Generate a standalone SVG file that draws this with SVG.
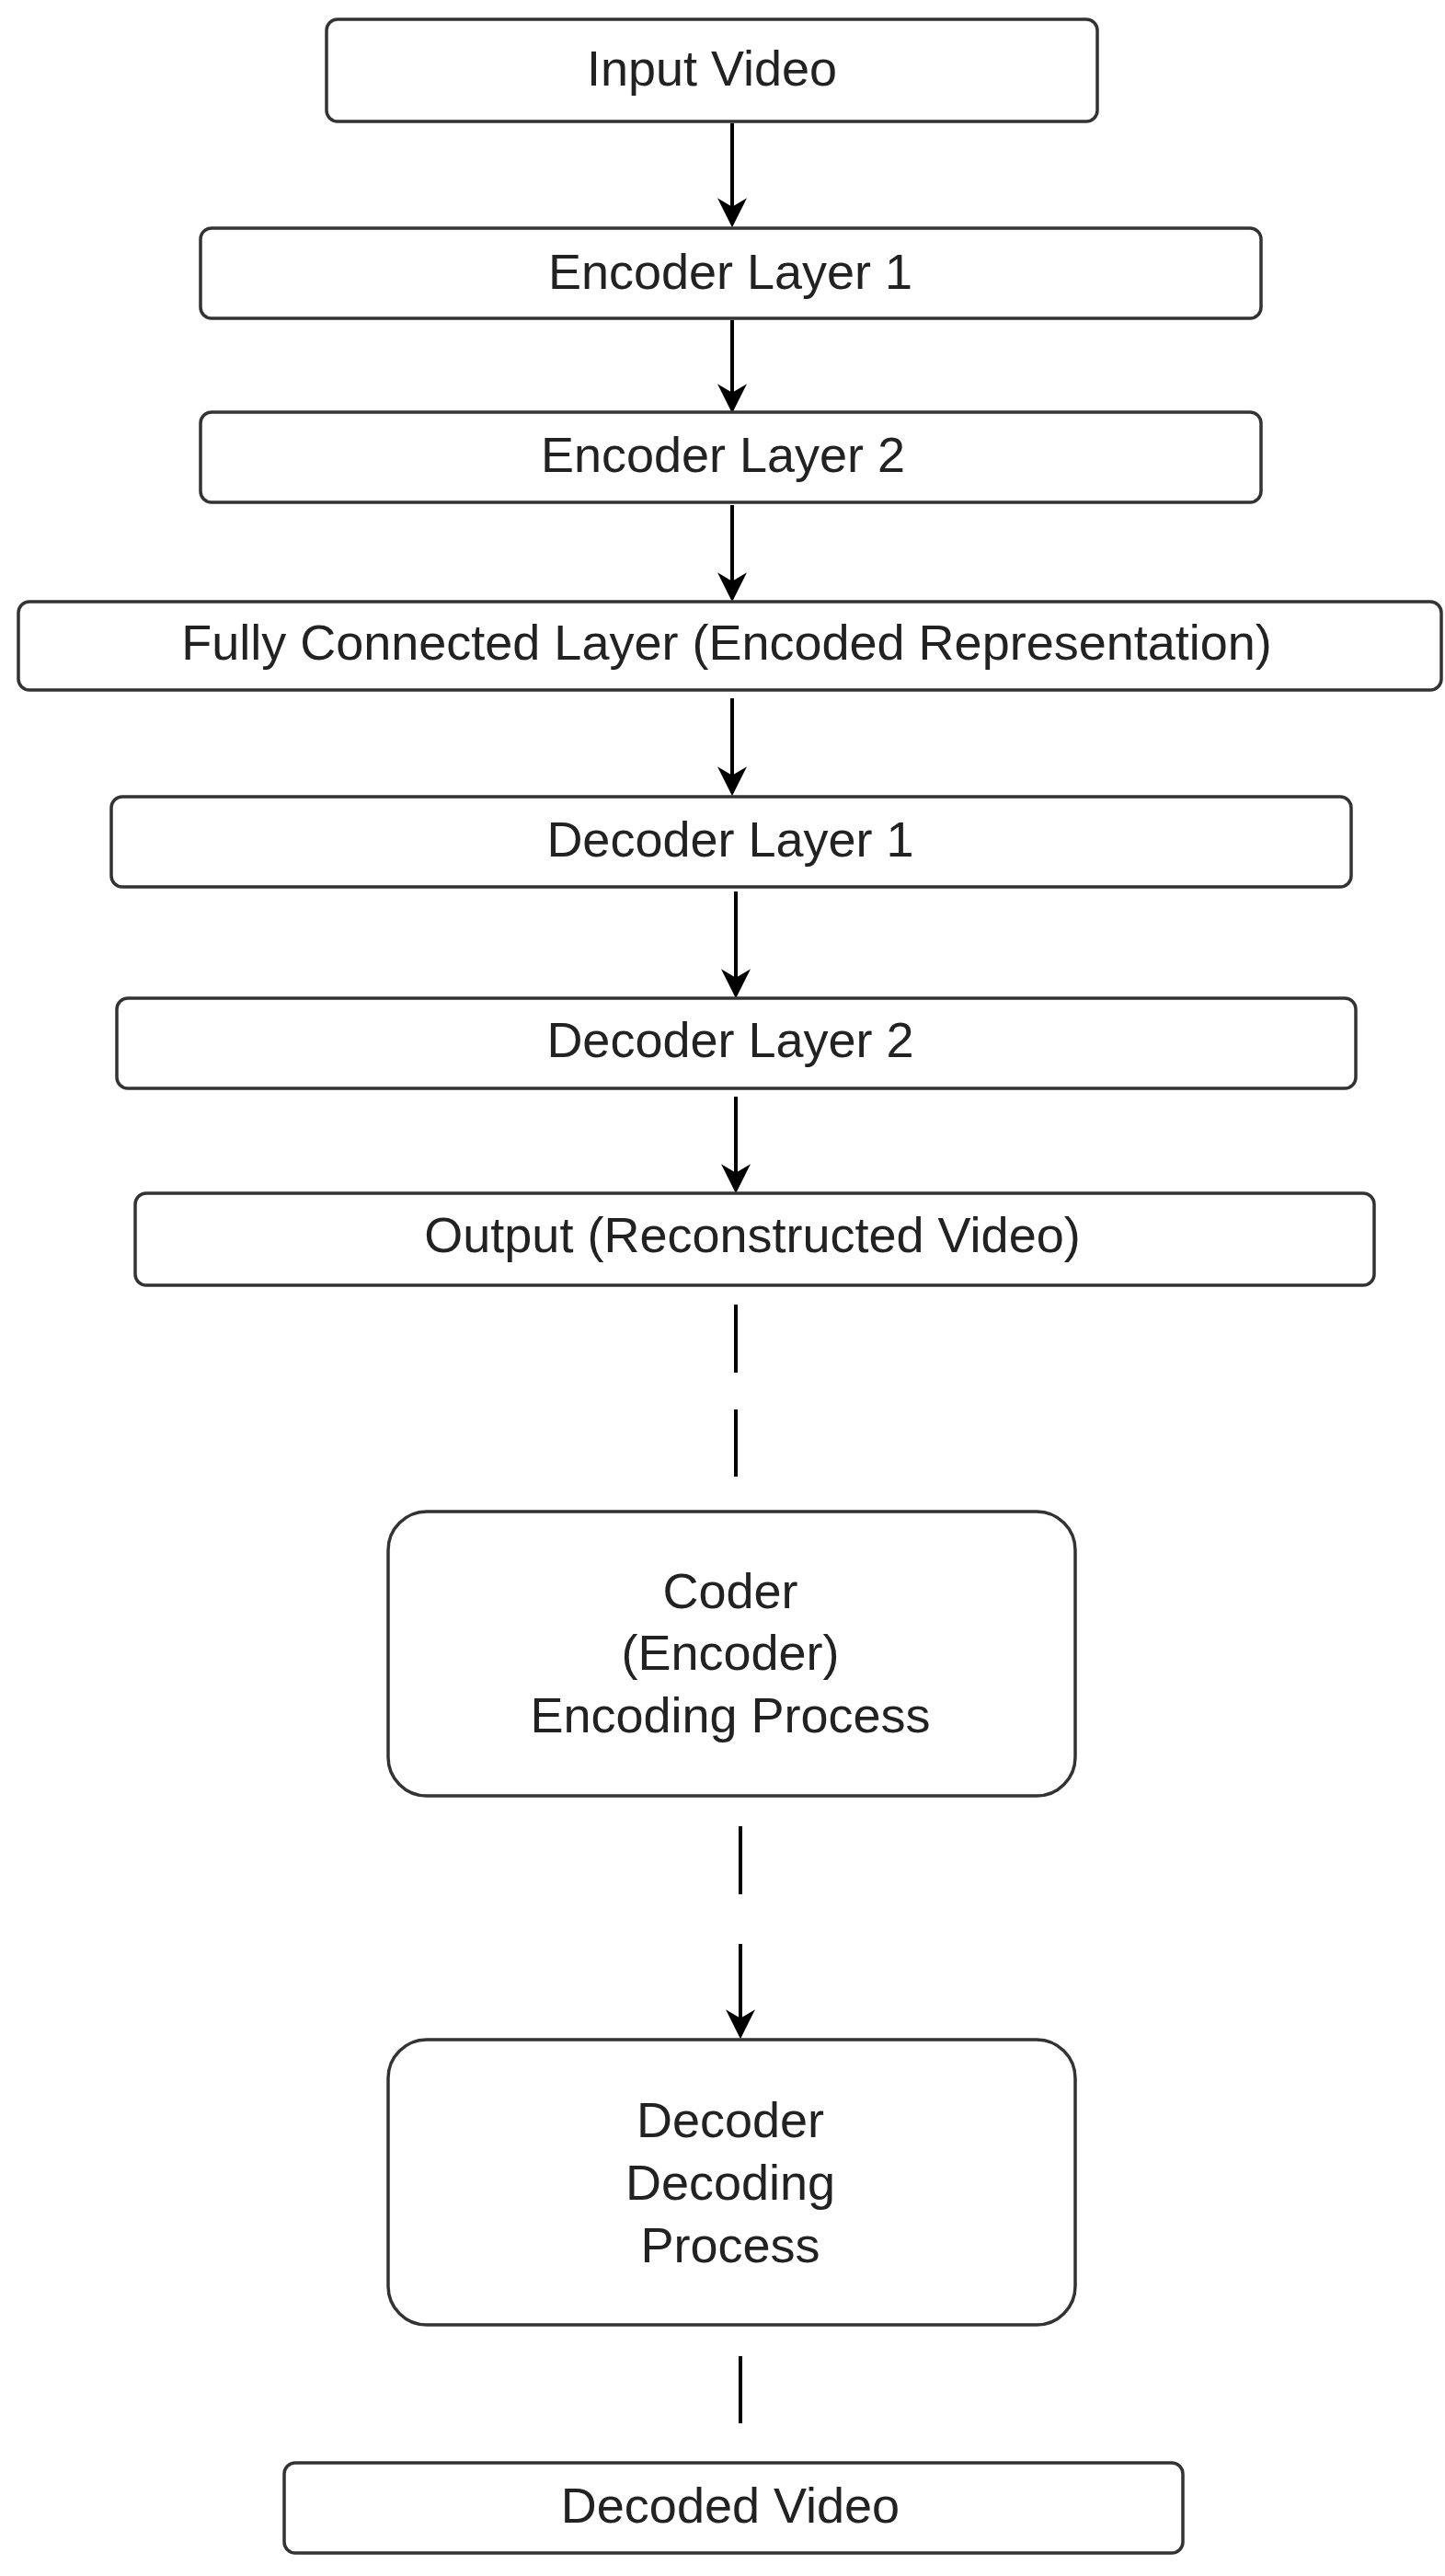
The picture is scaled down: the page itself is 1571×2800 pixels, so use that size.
<svg xmlns="http://www.w3.org/2000/svg" width="1571" height="2800" viewBox="0 0 1571 2800">
<defs>
<style>
.b{fill:#fff;stroke:#333;stroke-width:3.5}
.t{font-family:"Liberation Sans",Arial,sans-serif;font-size:54px;fill:#222;text-anchor:middle;dominant-baseline:central}
.c{stroke:#000;stroke-width:4;fill:none}
.d{stroke:#000;stroke-width:4;fill:none}
</style>
<marker id="ah" viewBox="0 0 10 10" refX="9" refY="5" markerWidth="8" markerHeight="8" orient="auto" markerUnits="strokeWidth"><path d="M0,0 L10,5 L0,10 L3,5 z" fill="#000"/></marker>
</defs>
<g id="connectors">
<line class="c" x1="796" y1="134" x2="796" y2="244" marker-end="url(#ah)"/>
<line class="c" x1="796" y1="348" x2="796" y2="446" marker-end="url(#ah)"/>
<line class="c" x1="796" y1="549" x2="796" y2="651" marker-end="url(#ah)"/>
<line class="c" x1="796" y1="759" x2="796" y2="862" marker-end="url(#ah)"/>
<line class="c" x1="800" y1="969" x2="800" y2="1082" marker-end="url(#ah)"/>
<line class="c" x1="800" y1="1192" x2="800" y2="1294" marker-end="url(#ah)"/>
<line class="d" x1="800" y1="1418" x2="800" y2="1492"/>
<line class="d" x1="800" y1="1532" x2="800" y2="1605"/>
<line class="d" x1="805" y1="1985" x2="805" y2="2059"/>
<line class="c" x1="805" y1="2113" x2="805" y2="2213" marker-end="url(#ah)"/>
<line class="d" x1="805" y1="2561" x2="805" y2="2634"/>
</g>
<g id="input"><rect class="b" x="355" y="21" width="838" height="111" rx="12"/><text class="t" x="774" y="74">Input Video</text></g>
<g id="enc1"><rect class="b" x="218" y="248" width="1153" height="98" rx="12"/><text class="t" x="794" y="295">Encoder Layer 1</text></g>
<g id="enc2"><rect class="b" x="218" y="448" width="1153" height="98" rx="12"/><text class="t" x="786" y="494">Encoder Layer 2</text></g>
<g id="fc"><rect class="b" x="20" y="654" width="1547" height="96" rx="12"/><text class="t" x="790" y="698">Fully Connected Layer (Encoded Representation)</text></g>
<g id="dec1"><rect class="b" x="121" y="866" width="1348" height="98" rx="12"/><text class="t" x="794" y="912">Decoder Layer 1</text></g>
<g id="dec2"><rect class="b" x="127" y="1085" width="1347" height="98" rx="12"/><text class="t" x="794" y="1130">Decoder Layer 2</text></g>
<g id="output"><rect class="b" x="147" y="1297" width="1347" height="100" rx="12"/><text class="t" x="818" y="1342">Output (Reconstructed Video)</text></g>
<g id="coder"><rect class="b" x="422" y="1643" width="747" height="309" rx="42"/>
<text class="t" x="794" y="1729">Coder</text><text class="t" x="794" y="1796">(Encoder)</text><text class="t" x="794" y="1864">Encoding Process</text></g>
<g id="decoder"><rect class="b" x="422" y="2217" width="747" height="310" rx="42"/>
<text class="t" x="794" y="2304">Decoder</text><text class="t" x="794" y="2372">Decoding</text><text class="t" x="794" y="2440">Process</text></g>
<g id="decoded"><rect class="b" x="309" y="2677" width="977" height="98" rx="12"/><text class="t" x="794" y="2723">Decoded Video</text></g>
</svg>
